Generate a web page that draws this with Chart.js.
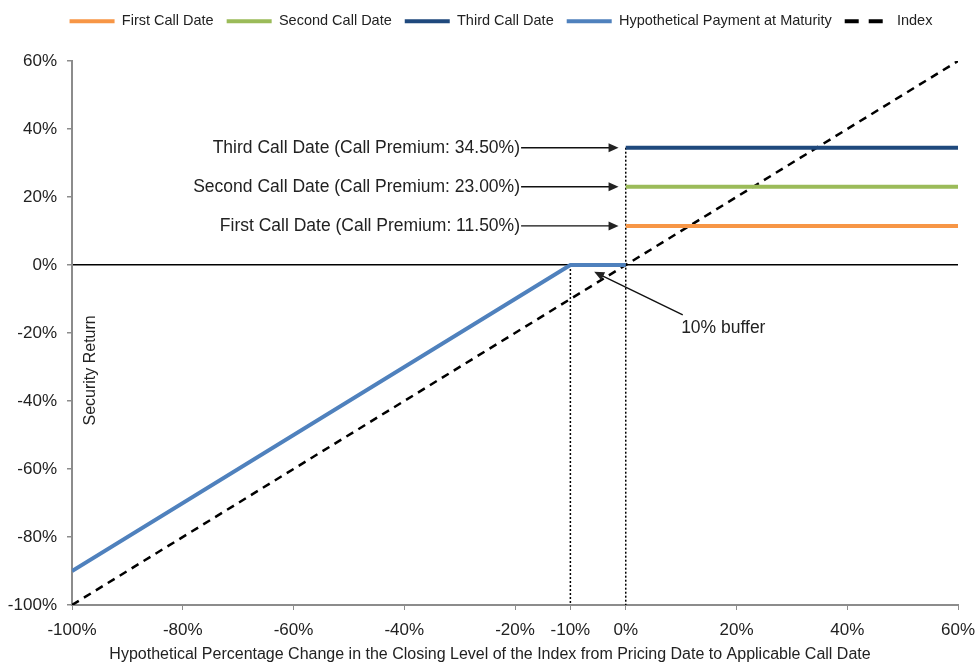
<!DOCTYPE html>
<html>
<head>
<meta charset="utf-8">
<script src="https://cdn.jsdelivr.net/npm/chart.js@4"></script>
<style>
  html, body { margin: 0; padding: 0; background: #fff; }
  #wrap { width: 977px; height: 665px; }
</style>
</head>
<body>
<div id="wrap"><canvas id="myChart" width="977" height="665"></canvas></div>
<script>
// values
var xTicks = [-100, -80, -60, -40, -20, -10, 0, 20, 40, 60];
var callX = [0, 60];
var firstCallY = [11.5, 11.5];
var secondCallY = [23, 23];
var thirdCallY = [34.5, 34.5];
var paymentX = [-100, -10, 0];
var paymentY = [-90, 0, 0];
var indexX = [-100, 60];
var indexY = [-100, 60];
var bufferLineX = [-10, -10];
var bufferLineY = [0, -100];
var zeroLineX = [0, 0];
var zeroLineY = [34.5, -100];

var callLabels = ['Third Call Date (Call Premium: 34.50%)', 'Second Call Date (Call Premium: 23.00%)', 'First Call Date (Call Premium: 11.50%)'];
var callLabelY = [34.5, 23, 11.5];

function pts(xs, ys) {
    return xs.map(function (x, i) { return {x: x, y: ys[i]}; });
}

var font = "'Liberation Sans', Arial, sans-serif";
Chart.defaults.font.family = font;
Chart.defaults.color = '#222';

function arrow(ctx, x1, y1, x2, y2) {
    var a = Math.atan2(y2 - y1, x2 - x1);
    var len = 10, w = 4.5;
    ctx.beginPath();
    ctx.moveTo(x1, y1);
    ctx.lineTo(x2 - Math.cos(a) * len * 0.8, y2 - Math.sin(a) * len * 0.8);
    ctx.stroke();
    ctx.beginPath();
    ctx.moveTo(x2, y2);
    ctx.lineTo(x2 - Math.cos(a) * len + Math.sin(a) * w, y2 - Math.sin(a) * len - Math.cos(a) * w);
    ctx.lineTo(x2 - Math.cos(a) * len - Math.sin(a) * w, y2 - Math.sin(a) * len + Math.cos(a) * w);
    ctx.closePath();
    ctx.fill();
}

var notes = {
    id: 'notes',
    beforeInit: function (chart) {
        // leave room between legend and plot
        var fit = chart.legend.fit;
        chart.legend.fit = function () { fit.call(this); this.height = 60; };
    },
    afterLayout: function (chart) {
        // legend sits a little right of centre in the original
        chart.legend.left += 22;
        chart.legend.right += 22;
    },
    afterDatasetsDraw: function (chart) {
        var ctx = chart.ctx, xs = chart.scales.x, ys = chart.scales.y;
        ctx.save();
        ctx.fillStyle = '#222';
        ctx.strokeStyle = '#111';
        ctx.lineWidth = 1.4;
        ctx.font = '17.5px ' + font;
        ctx.textBaseline = 'middle';
        ctx.textAlign = 'right';
        callLabels.forEach(function (t, i) {
            var py = ys.getPixelForValue(callLabelY[i]);
            ctx.fillText(t, xs.getPixelForValue(-19.1), py);
            arrow(ctx, xs.getPixelForValue(-18.9), py, xs.getPixelForValue(-1.3), py);
        });
        // 10% buffer
        ctx.textAlign = 'left';
        ctx.fillText('10% buffer', xs.getPixelForValue(10), ys.getPixelForValue(-18.7));
        arrow(ctx, xs.getPixelForValue(10.3), ys.getPixelForValue(-14.7), xs.getPixelForValue(-5.7), ys.getPixelForValue(-2));
        // x axis title
        ctx.textAlign = 'center';
        ctx.font = '16px ' + font;
        ctx.fillText('Hypothetical Percentage Change in the Closing Level of the Index from Pricing Date to Applicable Call Date', 490, 655);
        // y axis title inside plot
        ctx.translate(xs.getPixelForValue(-96.7), ys.getPixelForValue(-31));
        ctx.rotate(-Math.PI / 2);
        ctx.fillText('Security Return', 0, 0);
        ctx.restore();
    }
};

new Chart('myChart', {
    type: 'line',
    data: {
        datasets: [{
            label: 'First Call Date',
            data: pts(callX, firstCallY),
            borderColor: '#F79646', backgroundColor: '#F79646', borderWidth: 4
        }, {
            label: 'Second Call Date',
            data: pts(callX, secondCallY),
            borderColor: '#9BBB59', backgroundColor: '#9BBB59', borderWidth: 4
        }, {
            label: 'Third Call Date',
            data: pts(callX, thirdCallY),
            borderColor: '#1F497D', backgroundColor: '#1F497D', borderWidth: 4
        }, {
            label: 'Hypothetical Payment at Maturity',
            data: pts(paymentX, paymentY),
            borderColor: '#4F81BD', backgroundColor: '#4F81BD', borderWidth: 4
        }, {
            label: 'Index',
            data: pts(indexX, indexY),
            borderColor: '#000', backgroundColor: '#000', borderWidth: 2.5, borderDash: [8, 6]
        }, {
            label: 'bufferLine',
            data: pts(bufferLineX, bufferLineY),
            borderColor: '#000', borderWidth: 1.5, borderDash: [2, 2]
        }, {
            label: 'zeroLine',
            data: pts(zeroLineX, zeroLineY),
            borderColor: '#000', borderWidth: 1.5, borderDash: [2, 2]
        }]
    },
    options: {
        responsive: false,
        animation: false,
        elements: { point: { radius: 0 }, line: { tension: 0 } },
        layout: { padding: { top: 1, right: 19, left: 0, bottom: 0 } },
        plugins: {
            tooltip: { enabled: false },
            legend: {
                labels: {
                    usePointStyle: true,
                    pointStyle: 'line',
                    pointStyleWidth: 45,
                    padding: 13,
                    font: { size: 14.5 },
                    color: '#222',
                    generateLabels: function (chart) {
                        return chart.data.datasets.slice(0, 5).map(function (ds, i) {
                            return {
                                text: ds.label,
                                datasetIndex: i,
                                fillStyle: ds.borderColor,
                                strokeStyle: ds.borderColor,
                                lineWidth: 4,
                                lineDash: ds.label === 'Index' ? [14, 10] : [],
                                pointStyle: 'line',
                                fontColor: '#222',
                                hidden: false
                            };
                        });
                    }
                }
            }
        },
        scales: {
            x: {
                type: 'linear',
                min: -100,
                max: 60,
                afterBuildTicks: function (axis) {
                    axis.ticks = xTicks.map(function (v) { return {value: v}; });
                },
                afterFit: function (axis) {
                    axis.height = 60;
                    axis.paddingLeft = 0;
                    axis.paddingRight = 0;
                },
                ticks: {
                    callback: function (v) { return v + '%'; },
                    font: { size: 17 }, color: '#222', maxRotation: 0, autoSkip: false, padding: 10
                },
                grid: { drawOnChartArea: false, tickLength: 5, tickColor: '#8c8c8c' },
                border: { color: '#8c8c8c', width: 2 }
            },
            y: {
                min: -100,
                max: 60,
                afterFit: function (axis) { axis.width = 72; },
                ticks: {
                    stepSize: 20,
                    callback: function (v) { return v + '%'; },
                    font: { size: 17 }, color: '#222', padding: 10
                },
                grid: {
                    color: function (c) { return c.tick && c.tick.value === 0 ? '#000' : 'rgba(0,0,0,0)'; },
                    lineWidth: 1.5,
                    tickLength: 5,
                    tickColor: '#8c8c8c'
                },
                border: { color: '#8c8c8c', width: 2 }
            }
        }
    },
    plugins: [notes]
});
</script>
</body>
</html>
